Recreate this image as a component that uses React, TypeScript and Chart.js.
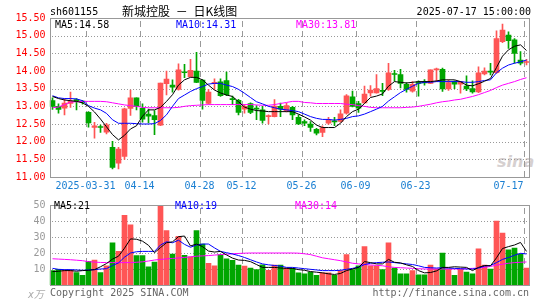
import React, { useEffect, useRef } from 'react';
import { Chart, registerables } from 'chart.js';

Chart.register(...registerables);

const DATES = [
  '2025-03-21', '2025-03-24', '2025-03-25', '2025-03-26', '2025-03-27', '2025-03-28',
  '2025-03-31', '2025-04-01', '2025-04-02', '2025-04-03',
  '2025-04-07', '2025-04-08', '2025-04-09', '2025-04-10', '2025-04-11',
  '2025-04-14', '2025-04-15', '2025-04-16', '2025-04-17', '2025-04-18',
  '2025-04-21', '2025-04-22', '2025-04-23', '2025-04-24', '2025-04-25',
  '2025-04-28', '2025-04-29', '2025-04-30',
  '2025-05-06', '2025-05-07', '2025-05-08', '2025-05-09',
  '2025-05-12', '2025-05-13', '2025-05-14', '2025-05-15', '2025-05-16',
  '2025-05-19', '2025-05-20', '2025-05-21', '2025-05-22', '2025-05-23',
  '2025-05-26', '2025-05-27', '2025-05-28', '2025-05-29', '2025-05-30',
  '2025-06-03', '2025-06-04', '2025-06-05', '2025-06-06',
  '2025-06-09', '2025-06-10', '2025-06-11', '2025-06-12', '2025-06-13',
  '2025-06-16', '2025-06-17', '2025-06-18', '2025-06-19', '2025-06-20',
  '2025-06-23', '2025-06-24', '2025-06-25', '2025-06-26', '2025-06-27',
  '2025-06-30', '2025-07-01', '2025-07-02', '2025-07-03', '2025-07-04',
  '2025-07-07', '2025-07-08', '2025-07-09', '2025-07-10', '2025-07-11',
  '2025-07-14', '2025-07-15', '2025-07-16', '2025-07-17',
];

const OPEN = [
  13.16, 13.00, 12.95, 13.08, 13.19, 13.14, 12.83, 12.40, 12.42, 12.27,
  11.84, 11.39, 11.58, 12.94, 13.24, 12.94, 12.78, 12.74, 12.47, 13.64,
  13.60, 13.48, 13.98, 13.84, 14.00, 13.74, 13.08, 13.64, 13.69, 13.73,
  13.22, 13.17, 12.92, 13.08, 12.94, 12.90, 12.71, 12.71, 13.00, 12.88,
  12.97, 12.69, 12.57, 12.50, 12.35, 12.26, 12.52, 12.58, 12.57, 12.81,
  13.27, 13.08, 13.10, 13.38, 13.38, 13.45, 13.48, 13.92, 13.90, 13.62,
  13.43, 13.67, 13.68, 13.65, 14.03, 14.05, 13.49, 13.70, 13.63, 13.57,
  13.50, 13.41, 13.92, 14.00, 13.95, 14.83, 15.02, 14.88, 14.31, 14.24,
];
const HIGH = [
  13.24, 13.07, 13.21, 13.40, 13.22, 13.17, 12.85, 12.55, 12.47, 12.52,
  12.01, 11.84, 12.95, 13.46, 13.24, 13.07, 12.92, 12.88, 13.66, 14.00,
  13.75, 14.20, 14.19, 14.33, 14.53, 13.76, 13.48, 13.78, 13.78, 13.97,
  13.29, 13.20, 13.05, 13.10, 13.02, 13.00, 12.76, 13.19, 13.09, 13.09,
  13.00, 12.76, 12.62, 12.57, 12.38, 12.45, 12.69, 12.69, 12.90, 13.33,
  13.43, 13.14, 13.57, 13.59, 13.90, 13.65, 14.22, 14.02, 14.05, 13.67,
  13.70, 13.72, 13.76, 14.03, 14.08, 14.08, 13.75, 13.72, 13.70, 13.86,
  13.72, 14.12, 14.09, 14.22, 15.14, 15.33, 15.11, 14.92, 14.55, 14.33,
];
const LOW = [
  12.91, 12.81, 12.76, 12.97, 12.90, 13.06, 12.41, 12.10, 12.26, 12.22,
  11.23, 11.23, 11.50, 12.74, 12.90, 12.55, 12.53, 12.20, 12.45, 13.32,
  13.40, 13.46, 13.81, 13.83, 13.67, 12.92, 13.06, 13.48, 13.28, 13.30,
  13.05, 12.76, 12.81, 12.79, 12.62, 12.52, 12.50, 12.70, 12.71, 12.84,
  12.62, 12.48, 12.45, 12.29, 12.19, 12.14, 12.49, 12.45, 12.55, 12.78,
  12.98, 12.83, 13.08, 13.29, 13.37, 13.30, 13.45, 13.71, 13.52, 13.40,
  13.40, 13.29, 13.60, 13.64, 13.70, 13.42, 13.45, 13.50, 13.37, 13.44,
  13.37, 13.39, 13.89, 13.89, 13.93, 14.80, 14.64, 14.22, 14.17, 14.17,
];
const CLOSE = [
  13.00, 12.91, 13.09, 13.15, 13.13, 13.12, 12.53, 12.45, 12.40, 12.48,
  11.27, 11.79, 12.93, 13.24, 13.00, 12.64, 12.72, 12.62, 13.66, 13.77,
  13.54, 14.03, 13.95, 14.02, 13.68, 13.17, 13.40, 13.68, 13.30, 13.33,
  13.19, 12.83, 13.00, 12.83, 12.92, 12.60, 12.74, 13.01, 12.92, 13.02,
  12.76, 12.50, 12.52, 12.40, 12.24, 12.40, 12.62, 12.56, 12.79, 13.30,
  13.00, 12.95, 13.35, 13.46, 13.50, 13.42, 13.95, 13.90, 13.65, 13.48,
  13.62, 13.65, 13.66, 14.03, 14.05, 13.49, 13.67, 13.63, 13.70, 13.49,
  13.41, 13.95, 14.00, 13.97, 14.92, 15.16, 14.86, 14.50, 14.22, 14.27,
];

const MA5 = [
  13.28, 13.22, 13.18, 13.16, 13.14, 13.10, 13.00, 12.84, 12.64, 12.42,
  12.20, 12.05, 12.18, 12.36, 12.45, 12.72, 12.90, 12.90, 12.97, 13.14,
  13.33, 13.60, 13.75, 13.82, 13.82, 13.75, 13.60, 13.46, 13.38, 13.32,
  13.28, 13.13, 12.98, 12.92, 12.88, 12.87, 12.85, 12.85, 12.85, 12.85,
  12.85, 12.78, 12.70, 12.61, 12.47, 12.40, 12.40, 12.40, 12.52, 12.71,
  12.85, 12.92, 13.08, 13.25, 13.29, 13.35, 13.57, 13.70, 13.68, 13.66,
  13.68, 13.70, 13.70, 13.70, 13.72, 13.75, 13.75, 13.75, 13.70, 13.60,
  13.58, 13.64, 13.71, 13.79, 14.10, 14.42, 14.60, 14.70, 14.74, 14.58,
];
const MA10 = [
  13.30, 13.24, 13.22, 13.22, 13.21, 13.16, 13.02, 12.95, 12.90, 12.80,
  12.62, 12.52, 12.52, 12.52, 12.51, 12.50, 12.50, 12.51, 12.60, 12.76,
  13.00, 13.22, 13.32, 13.42, 13.50, 13.56, 13.63, 13.65, 13.65, 13.60,
  13.56, 13.48, 13.37, 13.25, 13.13, 13.07, 13.00, 12.96, 12.92, 12.90,
  12.88, 12.85, 12.78, 12.71, 12.66, 12.63, 12.63, 12.61, 12.63, 12.66,
  12.71, 12.73, 12.78, 12.85, 12.92, 13.00, 13.15, 13.27, 13.39, 13.48,
  13.57, 13.65, 13.68, 13.68, 13.70, 13.70, 13.70, 13.70, 13.70, 13.68,
  13.68, 13.70, 13.73, 13.75, 13.95, 14.08, 14.17, 14.22, 14.26, 14.31,
];
const MA30 = [
  12.96, 12.98, 13.05, 13.12, 13.13, 13.14, 13.14, 13.14, 13.14, 13.13,
  13.10, 13.07, 13.04, 13.02, 13.00, 12.97, 12.96, 12.96, 12.96, 12.96,
  12.96, 12.97, 13.00, 13.02, 13.03, 13.04, 13.05, 13.05, 13.05, 13.05,
  13.05, 13.05, 13.05, 13.05, 13.04, 13.03, 13.03, 13.05, 13.08, 13.11,
  13.14, 13.14, 13.11, 13.10, 13.08, 13.08, 13.08, 13.08, 13.08, 13.06,
  13.05, 13.02, 13.00, 12.97, 12.96, 12.96, 12.96, 12.96, 12.96, 12.97,
  12.98, 13.00, 13.03, 13.06, 13.10, 13.13, 13.15, 13.18, 13.20, 13.24,
  13.28, 13.33, 13.39, 13.45, 13.53, 13.60, 13.65, 13.70, 13.76, 13.81,
];

// volume in 10k lots
const VOLUME = [
  9.0, 9.8, 9.4, 9.4, 7.8, 6.0, 14.8, 15.6, 7.8, 12.0,
  26.4, 21.0, 43.6, 37.6, 18.4, 18.4, 11.4, 14.4, 52.0, 34.0,
  19.4, 30.4, 18.6, 17.6, 34.0, 25.6, 13.6, 12.0, 19.0, 16.4,
  15.4, 12.4, 11.8, 10.6, 9.6, 12.6, 9.2, 12.4, 12.4, 10.6,
  10.4, 7.6, 7.0, 8.0, 6.0, 7.6, 7.6, 6.0, 9.0, 19.0,
  9.6, 12.0, 24.0, 12.0, 12.0, 9.6, 26.4, 10.6, 7.0, 7.0,
  9.0, 6.4, 6.4, 12.4, 10.0, 20.0, 10.0, 6.0, 10.0, 8.0,
  7.0, 22.6, 12.4, 10.0, 40.0, 32.4, 22.0, 23.0, 19.4, 10.6,
];
const VOL_MA5 = [
  8.4, 8.6, 9.0, 9.0, 8.6, 9.0, 9.2, 9.6, 11.4, 13.4,
  16.2, 18.0, 23.0, 28.8, 28.6, 27.4, 24.8, 20.2, 23.4, 26.4,
  27.0, 30.2, 30.6, 24.4, 25.6, 24.0, 21.2, 20.6, 21.0, 18.8,
  16.8, 15.6, 15.4, 14.6, 12.8, 11.0, 11.0, 11.0, 10.6, 10.4,
  10.4, 9.6, 9.2, 8.4, 8.0, 7.6, 7.0, 6.6, 7.2, 9.0,
  10.0, 11.0, 14.6, 14.0, 13.2, 13.2, 16.0, 14.2, 13.8, 12.6,
  11.6, 9.0, 7.6, 7.8, 8.8, 11.0, 11.0, 11.4, 11.2, 11.0,
  9.0, 11.0, 12.2, 12.0, 17.0, 22.8, 24.0, 25.0, 26.6, 21.0,
];
const VOL_MA10 = [
  10.4, 9.8, 9.6, 9.6, 9.4, 9.2, 9.4, 9.6, 10.0, 10.2,
  12.2, 13.8, 17.4, 20.0, 20.8, 21.0, 21.0, 21.0, 25.0, 27.0,
  26.4, 28.0, 25.4, 23.6, 25.0, 25.6, 25.6, 23.2, 21.0, 20.2,
  19.4, 18.4, 17.2, 15.8, 14.4, 13.2, 12.6, 12.2, 11.8, 11.0,
  11.0, 10.6, 10.2, 9.8, 9.4, 9.0, 9.0, 9.0, 9.2, 9.8,
  10.4, 11.2, 12.8, 13.6, 14.0, 14.2, 14.4, 14.0, 13.6, 13.2,
  12.8, 12.0, 11.0, 10.8, 10.6, 10.8, 10.6, 10.4, 10.2, 10.0,
  10.0, 10.6, 11.8, 12.2, 14.0, 16.0, 17.2, 18.6, 19.8, 19.4,
];
const VOL_MA30 = [
  16.4, 16.2, 16.0, 15.8, 15.5, 15.2, 14.6, 14.3, 14.1, 14.0,
  14.0, 14.0, 14.0, 14.0, 14.2, 14.5, 15.0, 15.6, 16.0, 16.3,
  16.6, 16.9, 17.2, 17.6, 18.0, 18.2, 18.4, 18.7, 19.0, 19.2,
  19.5, 19.7, 19.9, 20.0, 20.0, 20.0, 20.0, 20.0, 20.0, 20.0,
  20.0, 19.9, 19.5, 19.0, 18.0, 17.0, 16.4, 15.8, 15.2, 14.4,
  13.6, 13.2, 12.8, 12.5, 12.3, 12.0, 11.4, 11.0, 10.8, 10.6,
  10.4, 10.2, 10.0, 10.0, 10.0, 10.0, 10.0, 10.0, 10.0, 10.2,
  10.4, 10.6, 11.0, 11.6, 12.4, 13.0, 13.6, 14.0, 14.2, 14.4,
];

const X_TICK_INDEX = [6, 15, 25, 32, 42, 51, 61, 79];
const X_TICK_LABELS = ['2025-03-31', '04-14', '04-28', '05-12', '05-26', '06-09', '06-23', '07-17'];

const PRICE_MIN = 11;
const PRICE_MAX = 15.5;
const PRICE_STEP = 0.5;
const VOL_MIN = 0;
const VOL_MAX = 50;
const VOL_STEP = 10;

const MONO = "'DejaVu Sans Mono', 'Liberation Mono', monospace";
const CJK = "'Noto Sans CJK SC', sans-serif";
const UP = '#ff5555';
const DOWN = '#00a600';
const GRID_DOT = '#999999';
const GRID_DASH = '#999999';
const FRAME = '#999999';
const XBLUE = '#1a7fd2';

const candleColors = CLOSE.map((c, i) => (c >= OPEN[i] ? UP : DOWN));

// grid from the chart's own scales: dotted rows at y ticks, dashed columns at date ticks
function drawGrid(chart: any) {
  const { ctx, chartArea: a, scales } = chart;
  const xs = scales.x;
  const ys = scales.y;
  const half = (xs.getPixelForValue(1) - xs.getPixelForValue(0)) / 2;
  const left = Math.round(a.left) + 1;
  const right = Math.round(a.right) - 1;
  const top = Math.round(a.top) + 1;
  const bottom = Math.round(a.bottom);
  ctx.save();
  ctx.fillStyle = GRID_DOT;
  const yTicks: number[] = ys.ticks.map((t: any) => t.value);
  yTicks.forEach((v) => {
    const y = Math.round(ys.getPixelForValue(v));
    if (!(y > top && y < bottom - 1)) return;
    for (let x = left + 1; x < right; x += 3) ctx.fillRect(x, y, 1, 1);
  });
  ctx.fillStyle = GRID_DASH;
  X_TICK_INDEX.forEach((idx) => {
    const x = Math.round(xs.getPixelForValue(idx) - half);
    for (let y = top + 2; y < bottom; y += 10) {
      ctx.fillRect(x, y, 1, Math.min(6, bottom - y));
    }
  });
  ctx.restore();
}

const gridPlugin = {
  id: 'sinaGrid',
  beforeDatasetsDraw(chart: any) {
    drawGrid(chart);
  },
};

const framePlugin = {
  id: 'frame',
  afterDraw(chart: any) {
    const { ctx, chartArea: a } = chart;
    const l = Math.round(a.left) + 0.5;
    const r = Math.round(a.right) - 0.5;
    const t = Math.round(a.top) + 0.5;
    const b = Math.round(a.bottom) + 0.5;
    ctx.save();
    ctx.strokeStyle = FRAME;
    ctx.lineWidth = 1;
    ctx.strokeRect(l, t, r - l, b - t);
    ctx.restore();
  },
};

const xLabelPlugin = {
  id: 'xlabels',
  afterDraw(chart: any) {
    const xs = chart.scales.x;
    const { ctx, chartArea } = chart;
    const half = (xs.getPixelForValue(1) - xs.getPixelForValue(0)) / 2;
    ctx.save();
    ctx.font = `10px ${MONO}`;
    ctx.fillStyle = XBLUE;
    ctx.textBaseline = 'middle';
    X_TICK_INDEX.forEach((idx, k) => {
      const text = X_TICK_LABELS[k];
      const x = xs.getPixelForValue(idx) - half;
      const w = ctx.measureText(text).width;
      ctx.textAlign = x + w / 2 > chartArea.right ? 'right' : 'center';
      ctx.fillText(text, x, chartArea.bottom + 9.5);
    });
    ctx.restore();
  },
};

function xScale(height: number) {
  return {
    type: 'category' as const,
    offset: true,
    ticks: { display: false, autoSkip: false },
    grid: { display: false, drawTicks: false },
    border: { display: false },
    afterFit: (s: any) => { s.height = height; },
  };
}

const lineDs = (label: string, data: number[], color: string) => ({
  type: 'line' as const,
  label,
  data,
  borderColor: color,
  backgroundColor: color,
  borderWidth: 1,
  pointRadius: 0,
  tension: 0,
  fill: false,
  order: 0,
});

export default function App() {
  const priceRef = useRef<HTMLCanvasElement>(null);
  const volRef = useRef<HTMLCanvasElement>(null);

  useEffect(() => {
    const priceChart = new Chart(priceRef.current as HTMLCanvasElement, {
      type: 'bar',
      data: {
        labels: DATES,
        datasets: [
          lineDs('MA5', MA5, '#000000'),
          lineDs('MA10', MA10, '#0000ff'),
          lineDs('MA30', MA30, '#ff00ff'),
          {
            type: 'bar',
            label: 'body',
            data: DATES.map((_, i) => [OPEN[i], CLOSE[i]]) as any,
            backgroundColor: candleColors,
            borderWidth: 0,
            barThickness: 5,
            minBarLength: 1,
            grouped: false,
            order: 1,
          } as any,
          {
            type: 'bar',
            label: 'wick',
            data: DATES.map((_, i) => [LOW[i], HIGH[i]]) as any,
            backgroundColor: candleColors,
            borderWidth: 0,
            barThickness: 1,
            grouped: false,
            order: 2,
          } as any,
        ],
      },
      options: {
        animation: false,
        responsive: false,
        maintainAspectRatio: false,
        events: [],
        layout: { padding: { top: 18, right: 15.5, left: 0, bottom: 0 } },
        plugins: { legend: { display: false }, tooltip: { enabled: false } },
        scales: {
          x: xScale(18) as any,
          y: {
            type: 'linear',
            min: PRICE_MIN,
            max: PRICE_MAX,
            ticks: {
              stepSize: PRICE_STEP,
              color: '#ff0000',
              font: { family: MONO, size: 10 },
              padding: 4,
              callback: (v: any) => Number(v).toFixed(2),
            },
            grid: { display: false, drawTicks: false },
            border: { display: false },
            afterFit: (s: any) => { s.width = 49.5; },
          } as any,
        },
      },
      plugins: [gridPlugin, framePlugin, xLabelPlugin],
    });

    const volChart = new Chart(volRef.current as HTMLCanvasElement, {
      type: 'bar',
      data: {
        labels: DATES,
        datasets: [
          lineDs('MA5', VOL_MA5, '#000000'),
          lineDs('MA10', VOL_MA10, '#0000ff'),
          lineDs('MA30', VOL_MA30, '#ff00ff'),
          {
            type: 'bar',
            label: 'volume',
            data: VOLUME,
            backgroundColor: candleColors,
            borderWidth: 0,
            barThickness: 5,
            grouped: false,
            order: 1,
          } as any,
        ],
      },
      options: {
        animation: false,
        responsive: false,
        maintainAspectRatio: false,
        events: [],
        layout: { padding: { top: 6, right: 15.5, left: 0, bottom: 0 } },
        plugins: { legend: { display: false }, tooltip: { enabled: false } },
        scales: {
          x: xScale(15) as any,
          y: {
            type: 'linear',
            min: VOL_MIN,
            max: VOL_MAX,
            ticks: {
              stepSize: VOL_STEP,
              color: '#999999',
              font: { family: MONO, size: 10 },
              padding: 4,
              callback: (v: any) => (Number(v) === 0 ? '' : String(v)),
            },
            grid: { display: false, drawTicks: false },
            border: { display: false },
            afterFit: (s: any) => { s.width = 49.5; },
          } as any,
        },
      },
      plugins: [gridPlugin, framePlugin],
    });

    return () => {
      priceChart.destroy();
      volChart.destroy();
    };
  }, []);

  const txt = (left: number, cy: number, color: string, extra: React.CSSProperties = {}): React.CSSProperties => ({
    position: 'absolute',
    left,
    top: cy - 5,
    fontFamily: MONO,
    fontSize: 10,
    lineHeight: '10px',
    color,
    whiteSpace: 'pre',
    ...extra,
  });

  return (
    <div
      style={{
        position: 'absolute',
        left: 0,
        top: 0,
        width: 545,
        height: 300,
        background: '#ffffff',
        overflow: 'hidden',
      }}
    >
      <div
        style={{
          position: 'absolute',
          left: 497,
          top: 153,
          fontFamily: "'DejaVu Sans', sans-serif",
          fontWeight: 'bold',
          fontStyle: 'italic',
          fontSize: 16,
          lineHeight: '18px',
          color: '#d6d0d0',
        }}
      >
        sina
      </div>
      <canvas
        ref={priceRef}
        width={545}
        height={195}
        style={{ position: 'absolute', left: 0, top: 0, width: 545, height: 195 }}
      />
      <canvas
        ref={volRef}
        width={545}
        height={105}
        style={{ position: 'absolute', left: 0, top: 195, width: 545, height: 105 }}
      />
      <div style={txt(50, 11.5, '#000000')}>sh601155</div>
      <div
        style={{
          position: 'absolute',
          left: 122,
          top: 5,
          fontFamily: CJK,
          fontSize: 12,
          lineHeight: '12px',
          wordSpacing: 3,
          color: '#000000',
          whiteSpace: 'pre',
        }}
      >
        新城控股 － 日K线图
      </div>
      <div style={{ ...txt(0, 12, '#000000'), left: 'auto', right: 14 }}>2025-07-17 15:00:00</div>

      <div style={txt(55, 24.5, '#000000')}>MA5:14.58</div>
      <div style={txt(176, 24.5, '#0000ff')}>MA10:14.31</div>
      <div style={txt(296, 24.5, '#ff00ff')}>MA30:13.81</div>

      <div style={txt(54, 206, '#000000')}>MA5:21</div>
      <div style={txt(175, 206, '#0000ff')}>MA10:19</div>
      <div style={txt(295, 206, '#ff00ff')}>MA30:14</div>

      <div style={txt(28, 295, '#aaaaaa', { fontStyle: 'italic', fontFamily: `${MONO}, ${CJK}` })}>x万</div>
      <div style={txt(50, 292.5, '#666666')}>Copyright 2025 SINA.COM</div>
      <div style={{ ...txt(0, 292.5, '#666666'), left: 'auto', right: 16 }}>http://finance.sina.com.cn</div>
    </div>
  );
}
